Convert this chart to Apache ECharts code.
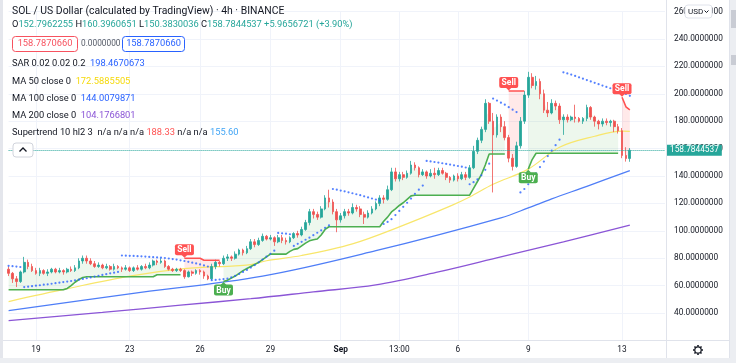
<!DOCTYPE html>
<html><head><meta charset="utf-8">
<script src="https://cdn.jsdelivr.net/npm/echarts@6/dist/echarts.min.js"></script>
<style>html,body{margin:0;padding:0;background:#fff;}#chart{width:736px;height:363px;}</style>
</head><body><div id="chart"></div>
<script>
// ---- DATA ----
// candles: [open, close, low, high], 4h bars from 2021-08-17 21:00
const candles = [
[72,69,67,74],[69,65,62,70],[65,63,59,67],[63,70,62,71],[70,77,69,81],[77,74,72,79],[74,71,70,76],[71,69,68,73],[69,71,67,73],[71,69,68,72],
[69,70,67,72],[70,72,69,73],[72,70,69,73],[70,71,69,73],[71,70,68,72],[70,72,69,73],[72,71,70,74],[71,73,70,75],[73,78,72,80],[78,80,76,82],
[80,78,76,82],[78,76,75,80],[76,74,73,78],[74,75,73,77],[75,73,72,76],[73,74,72,76],[74,72,71,75],[72,74,71,76],[74,73,72,75],[73,72,70,74],
[72,73,71,75],[73,71,70,74],[71,73,70,74],[73,72,71,75],[72,74,71,75],[74,73,72,76],[73,75,72,77],[75,78,74,79],[78,77,75,79],[77,78,76,80],
[78,74,73,79],[74,72,71,75],[72,71,70,73],[71,72,70,73],[72,71,70,73],[71,66.5,65,72],[66.5,70,66,71],[70,69,67,71],[69,71,68,72],[71,70,68,72],
[70,67,65,71],[67,65,64,68],[65,74,64,76],[74,77,72,79],[77,76,74,78],[76,80,75,82],[80,81,78,83],[81,80,78,82],[80,83,79,85],[83,86,82,87],
[86,84,82,87],[84,87,83,89],[87,92,86,94],[92,90,88,94],[90,93,89,95],[93,96,92,98],[96,94,93,97],[94,95,93,97],[95,92,89,96],[92,95,91,97],
[95,93,91,97],[93,92,90,95],[92,95,91,96],[95,98,94,99],[98,97,95,100],[97,101,96,103],[101,106,100,108],[106,114,104,116],[114,112,109,116],[112,110,108,114],
[110,116,109,118],[116,124,115,126],[124,121,117,130],[121,114,112,123],[114,108,99,116],[108,111,106,113],[111,114,109,116],[114,113,111,116],[113,117,112,120],[117,116,114,119],
[116,112,110,118],[112,110,105,114],[110,113,109,115],[113,116,112,118],[116,120,115,121.5],[120,124,118,126],[124,123,120,126],[123,130,122,133],[130,143,129,146],[143,138,136,146],
[138,141,136,143],[141,139,137,143],[139,142,138,144],[142,148,141,151],[148,146,144,150],[146,141,139,147],[141,143,140,145],[143,140,138,144],[140,142,139,145],[142,141,138,146],
[141,144,140,146],[144,142,141,146],[142,139,137,143],[139,137,135,140],[137,140,136,141],[140,138,136,142],[138,141,137,143],[141,139,137,143],[139,146,138,148],[146,158,145,162],
[158,166,156,168],[166,174,164,176],[174,193,172,196],[193,180,178,194],[180,170,128,186],[170,183,168,185],[183,176,172,185],[176,168,166,180],[168,153,150,170],[153,147,144,156],
[147,162,146,165],[162,180,160,183],[180,199,178,202],[199,212,197,216],[212,206,204,215],[206,209,203,213],[209,200,196,211],[200,188,186,203],[188,186,183,194],[186,193,185,196],
[193,191,188,195],[191,181,178,193],[181,183,170,185],[183,181,179,185],[181,183,180,184],[183,182,179,192],[182,180,179,183],[180,182,178,183],[182,190,180,192],[190,183,181,191],
[183,180,176,184],[180,178,174,181],[178,180,176,182],[180,179,177,182],[179,180,176,181],[180,176,172,181],[176,173,171,178],[173,155,153,175],[155,152.82,150.5,161],[152.7962255,158.7844537,150.3830036,160.3960651]
];
// Parabolic SAR dots, one per candle
const sar = [
74.5,74.2,73.9,73.6,
59,59.3,59.6,60,60.3,60.7,61,61.4,61.8,62.2,62.6,63,63.4,63.9,64.4,64.9,65.4,66,66.6,67.2,67.8,68.4,69,69.5,70,
82,81.9,81.8,81.7,81.5,81.4,81.2,81,80.8,80.6,80.4,80.2,79.8,79.4,79,78.5,78,77.4,76.8,76.2,75.5,74.8,74,
64,64.2,64.5,64.8,65.2,66,67.2,68.5,70,71.5,73.2,75,77,79,81.2,83.3,85.5,
98.5,98.2,97.9,97.5,
89,90.5,92,93.5,95,96.8,98.6,100.4,102.2,104,
130.5,130,129.4,128.8,128.1,127.4,126.7,126,125.2,124.4,123.6,122.8,122,
105,106.5,108.5,111.5,114.5,117.5,120.5,123.5,127,130,133,
151,150.6,150.2,149.8,149.3,148.8,148.3,147.8,147.3,146.8,146.2,
134,135.5,137.5,140.5,144.5,149,
196.5,195,193.5,192,190.2,188.4,186.6,
128,130.5,134,138,142,146.5,150.5,154.5,158.5,162.5,166.5,
215.6,214.8,214,213,212,211,210,209,208,207,206,205,204,203,202,201,199.8,198.5
];
// Supertrend up (green) line, one per candle, null when not active
const stUp = [
57,57,57,57,57,57,57,57,57,57,57,57,57,57,57,58,60,62.5,64.5,66,
66.5,66.5,66.5,66.5,66.5,66.5,66.5,66.5,66.5,66.5,66.5,66.5,66.5,66.5,66.5,66.5,66.5,66.5,68,68,
68,68,68,68,68,null,null,null,null,null,null,null,null,null,null,63,64,65.5,67,69,
71,72.5,74,75.5,77,79,81,83,83,83,83,83,85,86.5,87,89,91,92.7,93.5,94,
97,101,103,103,103,103,103,103,103,103,103,103,103,103,103,103,107,110,113.8,116,
118.5,120.5,123,125.5,126,126,126,126,126,126,126,126,126,126,126,126,126,126,126,131,
136,141,148,156,156,156,156,156,null,null,null,null,null,145,152,156.6,156.6,156.6,156.6,156.6,
156.6,156.6,156.6,156.6,156.6,156.6,156.6,156.6,156.6,156.6,156.6,156.6,156.6,156.6,156.6,156.6,156.6,null,null,null
];
// Supertrend down (red) line
const stDown = [
null,null,null,null,null,null,null,null,null,null,null,null,null,null,null,null,null,null,null,null,
null,null,null,null,null,null,null,null,null,null,null,null,null,null,null,null,null,null,null,null,
null,null,null,null,null,80,80,80,80,80,78.5,78.5,78.5,78.5,78.5,null,null,null,null,null,
null,null,null,null,null,null,null,null,null,null,null,null,null,null,null,null,null,null,null,null,
null,null,null,null,null,null,null,null,null,null,null,null,null,null,null,null,null,null,null,null,
null,null,null,null,null,null,null,null,null,null,null,null,null,null,null,null,null,null,null,null,
null,null,null,null,null,null,null,null,202,202,202,202,202,null,null,null,null,null,null,null,
null,null,null,null,null,null,null,null,null,null,null,null,null,null,null,null,null,197.5,190.5,188.3
];
// Moving averages, read at sample candles: [candleIndex, value]
const ma50 = [[0,48.4],[15,57.8],[31,67],[45,72.4],[58,74.5],[62,75.3],[66,78.2],[75,82],[88,90.5],[100,102.9],[113,118],[118,124.7],[124,134],[133,145],[141,161],[150,169],[157,172.7],[159,172.6]];
const ma100 = [[0,41.8],[31,54],[65,67],[94,85.5],[126,109.5],[133,116.7],[139,123.3],[148,132.5],[159,144.0]];
const ma200 = [[0,34.5],[24,40.5],[44,45.8],[62,50.5],[78,55.5],[94,60.5],[110,70],[126,81],[142,92],[159,104.2]];
// Buy / Sell signals: [candleIndex, kind] kind 0 = Sell, 1 = Buy
const signals = [[45,0],[55,1],[128,0],[133,1],[157,0]];
const lastClose = 158.7844537;
const lastCloseText = '158.7844537';
// time axis tick labels
const tickTimes = ['2021-08-19 01:00','2021-08-23 01:00','2021-08-26 01:00','2021-08-29 01:00','2021-09-01 01:00','2021-09-03 13:00','2021-09-06 01:00','2021-09-09 01:00','2021-09-13 01:00'];
const tickLabels = ['19','23','26','29','Sep','13:00','6','9','13'];
const slotCount = 169;

// ---- build ----
const pad = n => (n < 10 ? '0' : '') + n;
const start = Date.UTC(2021, 7, 17, 21);
const categories = [];
for (let k = 0; k < slotCount; k++) {
  const d = new Date(start + k * 4 * 3600 * 1000);
  categories.push(d.getUTCFullYear() + '-' + pad(d.getUTCMonth() + 1) + '-' + pad(d.getUTCDate()) + ' ' + pad(d.getUTCHours()) + ':00');
}
const labelMap = {};
tickTimes.forEach((t, k) => { labelMap[t] = tickLabels[k]; });
const mid = candles.map(c => (c[0] + c[1]) / 2);

function segments(arr) {
  const out = []; let s = -1;
  for (let i = 0; i <= arr.length; i++) {
    const ok = i < arr.length && arr[i] != null;
    if (ok && s < 0) s = i;
    if (!ok && s >= 0) { out.push([s, i - 1]); s = -1; }
  }
  return out;
}
const fillData = segments(stUp).map(s => [s[0], s[1], 1]).concat(segments(stDown).map(s => [s[0], s[1], 0]));

const FONT = 'Roboto, "Noto Sans", sans-serif';
const GRID_C = '#f0f3fa';

function renderFill(params, api) {
  const s = api.value(0), e = api.value(1), up = api.value(2) === 1;
  const line = up ? stUp : stDown;
  const pts = [];
  for (let i = s; i <= e; i++) pts.push(api.coord([i, line[i]]));
  for (let i = e; i >= s; i--) pts.push(api.coord([i, mid[i]]));
  return { type: 'polygon', shape: { points: pts }, style: { fill: up ? 'rgba(76,175,80,0.10)' : 'rgba(255,82,82,0.13)' } };
}
function renderSignal(params, api) {
  const idx = api.value(0), kind = api.value(1);
  const v = kind === 0 ? stDown[idx] : stUp[idx];
  const p = api.coord([idx, v]);
  const w = 19, h = 11;
  const col = kind === 0 ? '#ff5252' : '#4caf50';
  let by, tri;
  if (kind === 0) { by = p[1] - 3 - h; tri = [[p[0] - 3, p[1] - 3.5], [p[0] + 3, p[1] - 3.5], [p[0], p[1] - 0.5]]; }
  else { by = p[1] + 3; tri = [[p[0] - 3, p[1] + 3.5], [p[0] + 3, p[1] + 3.5], [p[0], p[1] + 0.5]]; }
  return { type: 'group', children: [
    { type: 'rect', shape: { x: p[0] - w / 2, y: by, width: w, height: h, r: 2 }, style: { fill: col } },
    { type: 'polygon', shape: { points: tri }, style: { fill: col } },
    { type: 'text', style: { text: kind === 0 ? 'Sell' : 'Buy', x: p[0], y: by + h / 2 + 0.5, align: 'center', verticalAlign: 'middle', fill: '#fff', font: 'bold 8.5px ' + FONT } }
  ] };
}

const gearSpokes = [];
for (let k = 0; k < 8; k++) {
  const a = k * Math.PI / 4;
  gearSpokes.push({ type: 'line', shape: { x1: 698 + Math.cos(a) * 3.2, y1: 350 + Math.sin(a) * 3.2, x2: 698 + Math.cos(a) * 5, y2: 350 + Math.sin(a) * 5 }, style: { stroke: '#131722', lineWidth: 1.6 }, z: 60 });
}

const legendRich = {
  k: { fill: '#131722', color: '#131722', fontSize: 9.3, fontFamily: FONT },
  v: { fill: '#26a69a', color: '#26a69a', fontSize: 9.3, fontFamily: FONT },
  b: { fill: '#2962ff', color: '#2962ff', fontSize: 9.3, fontFamily: FONT },
  y: { fill: '#f5d90a', color: '#f5d90a', fontSize: 9.3, fontFamily: FONT },
  p: { fill: '#8b55d6', color: '#8b55d6', fontSize: 9.3, fontFamily: FONT },
  r: { fill: '#ff5252', color: '#ff5252', fontSize: 9.3, fontFamily: FONT },
  l: { fill: '#42a5f5', color: '#42a5f5', fontSize: 9.3, fontFamily: FONT }
};
function legendText(y, text) {
  return { type: 'text', x: 12, y: y, z: 90, style: { text: text, rich: legendRich, verticalAlign: 'middle', font: '9.3px ' + FONT, fill: '#131722' } };
}

const option = {
  animation: false,
  backgroundColor: '#ffffff',
  grid: { left: 8.6, right: 71, top: 11.5, bottom: 22.5, show: false },
  xAxis: {
    type: 'category', data: categories, boundaryGap: false,
    axisLine: { show: false }, axisTick: { show: false },
    axisLabel: {
      interval: (i, v) => labelMap[v] !== undefined,
      formatter: v => labelMap[v] === 'Sep' ? '{s|Sep}' : (labelMap[v] || ''),
      rich: { s: { fontWeight: 'bold', fontSize: 8.3, fontFamily: FONT, color: '#131722' } },
      color: '#131722', fontSize: 8.3, fontFamily: FONT, margin: 5
    },
    splitLine: { show: true, interval: (i, v) => labelMap[v] !== undefined, lineStyle: { color: GRID_C, width: 1 } }
  },
  yAxis: {
    type: 'value', position: 'right', min: 20, max: 260, interval: 20, scale: false,
    axisLine: { show: false }, axisTick: { show: false },
    axisLabel: { formatter: v => (v < 30 ? '' : v.toFixed(7)), color: '#131722', fontSize: 8.3, fontFamily: FONT, margin: 9 },
    splitLine: { lineStyle: { color: GRID_C, width: 1 } }
  },
  series: [
    { type: 'custom', name: 'stfill', renderItem: renderFill, data: fillData, z: 1, silent: true },
    { type: 'line', name: 'MA200', data: ma200, smooth: 0.35, showSymbol: false, lineStyle: { color: '#8b55d6', width: 1.3 }, z: 2 },
    { type: 'line', name: 'MA100', data: ma100, smooth: 0.35, showSymbol: false, lineStyle: { color: '#4f7ef7', width: 1.3 }, z: 2 },
    { type: 'line', name: 'MA50', data: ma50, smooth: 0.35, showSymbol: false, lineStyle: { color: '#f8e66b', width: 1.2 }, z: 2 },
    { type: 'candlestick', name: 'SOL', data: candles, barWidth: 2.2, z: 3,
      itemStyle: { color: '#26a69a', color0: '#ef5350', borderColor: '#26a69a', borderColor0: '#ef5350', borderWidth: 0.8 },
      markLine: { symbol: ['none', 'none'], silent: true, animation: false,
        data: [{ yAxis: lastClose }],
        lineStyle: { color: '#26a69a', type: 'dotted', width: 1 },
        label: { position: 'end', formatter: lastCloseText, color: '#fff', backgroundColor: '#26a69a', padding: [2, 3, 1, 3], fontSize: 8.3, fontFamily: FONT, distance: 2 } } },
    { type: 'line', name: 'STup', data: stUp, connectNulls: false, showSymbol: false, lineStyle: { color: '#4caf50', width: 1.6 }, z: 4 },
    { type: 'line', name: 'STdown', data: stDown, connectNulls: false, showSymbol: false, lineStyle: { color: '#ff5252', width: 1.6 }, z: 4 },
    { type: 'scatter', name: 'SAR', data: sar, symbol: 'circle', symbolSize: 2.2, itemStyle: { color: '#2962ff' }, z: 5 },
    { type: 'custom', name: 'signals', renderItem: renderSignal, data: signals, z: 6, silent: true }
  ],
  graphic: [
    { type: 'rect', shape: { x: 0, y: 0, width: 3, height: 363 }, style: { fill: '#e4e6ec' }, z: 55 },
    { type: 'rect', shape: { x: 730, y: 0, width: 6, height: 363 }, style: { fill: '#eceef2' }, z: 55 },
    { type: 'rect', shape: { x: 731, y: 10, width: 5, height: 18 }, style: { fill: '#c9ccd4' }, z: 56 },
    { type: 'rect', shape: { x: 731, y: 55, width: 5, height: 10 }, style: { fill: '#c9ccd4' }, z: 56 },
    { type: 'rect', shape: { x: 0, y: 358, width: 736, height: 5 }, style: { fill: '#eceef2' }, z: 55 },
    { type: 'line', shape: { x1: 3, y1: 340.5, x2: 730, y2: 340.5 }, style: { stroke: '#e0e3eb', lineWidth: 1 }, z: 56 },
    { type: 'line', shape: { x1: 666.5, y1: 0, x2: 666.5, y2: 358 }, style: { stroke: '#e0e3eb', lineWidth: 1 }, z: 56 },
    { type: 'line', shape: { x1: 729.5, y1: 0, x2: 729.5, y2: 358 }, style: { stroke: '#e0e3eb', lineWidth: 1 }, z: 56 },
    { type: 'circle', shape: { cx: 698, cy: 350, r: 3.2 }, style: { fill: '#fff', stroke: '#131722', lineWidth: 1.2 }, z: 61 }
  ].concat(gearSpokes).concat([
    // USD button
    { type: 'rect', shape: { x: 685, y: 5, width: 27, height: 13, r: 3 }, style: { fill: '#fff', stroke: '#e0e3eb', lineWidth: 1 }, z: 90 },
    { type: 'text', x: 688, y: 11.5, z: 91, style: { text: 'USD', font: '8px ' + FONT, fill: '#131722', verticalAlign: 'middle' } },
    { type: 'polyline', shape: { points: [[704.5, 10.5], [706.5, 12.5], [708.5, 10.5]] }, style: { stroke: '#131722', lineWidth: 1, fill: null }, z: 91 },
    // legend
    { type: 'text', x: 12, y: 11, z: 90, style: { text: 'SOL / US Dollar (calculated by TradingView) · 4h · BINANCE', font: '10.4px ' + FONT, fill: '#131722', verticalAlign: 'middle' } },
    legendText(25, '{k|O}{v|152.7962255} {k|H}{v|160.3960651} {k|L}{v|150.3830036} {k|C}{v|158.7844537} {v|+5.9656721 (+3.90%)}'),
    { type: 'rect', shape: { x: 12.5, y: 36.5, width: 65, height: 15, r: 3 }, style: { fill: '#fff', stroke: '#f7525f', lineWidth: 1 }, z: 90 },
    { type: 'text', x: 45, y: 44, z: 91, style: { text: '158.7870660', font: '9.3px ' + FONT, fill: '#f7525f', align: 'center', verticalAlign: 'middle' } },
    { type: 'text', x: 81, y: 44, z: 91, style: { text: '0.0000000', font: '8.3px ' + FONT, fill: '#555a66', verticalAlign: 'middle' } },
    { type: 'rect', shape: { x: 122.5, y: 36.5, width: 62, height: 15, r: 3 }, style: { fill: '#fff', stroke: '#2962ff', lineWidth: 1 }, z: 90 },
    { type: 'text', x: 153.5, y: 44, z: 91, style: { text: '158.7870660', font: '9.3px ' + FONT, fill: '#2962ff', align: 'center', verticalAlign: 'middle' } },
    legendText(64, '{k|SAR 0.02 0.02 0.2}  {b|198.4670673}'),
    legendText(82, '{k|MA 50 close 0}  {y|172.5885505}'),
    legendText(99, '{k|MA 100 close 0}  {b|144.0079871}'),
    legendText(116, '{k|MA 200 close 0}  {p|104.1766801}'),
    legendText(133, '{k|Supertrend 10 hl2 3}  {k|n/a n/a n/a} {r|188.33} {k|n/a n/a} {l|155.60}'),
    { type: 'rect', shape: { x: 13, y: 143, width: 20, height: 14, r: 3 }, style: { fill: '#fff', stroke: '#d1d4dc', lineWidth: 1 }, z: 90 },
    { type: 'polyline', shape: { points: [[19.5, 151.5], [23, 148], [26.5, 151.5]] }, style: { stroke: '#131722', lineWidth: 1.3, fill: null }, z: 91 }
  ])
};

const chart = echarts.init(document.getElementById('chart'), null, { renderer: 'canvas', width: 736, height: 363 });
chart.setOption(option);
</script></body></html>
